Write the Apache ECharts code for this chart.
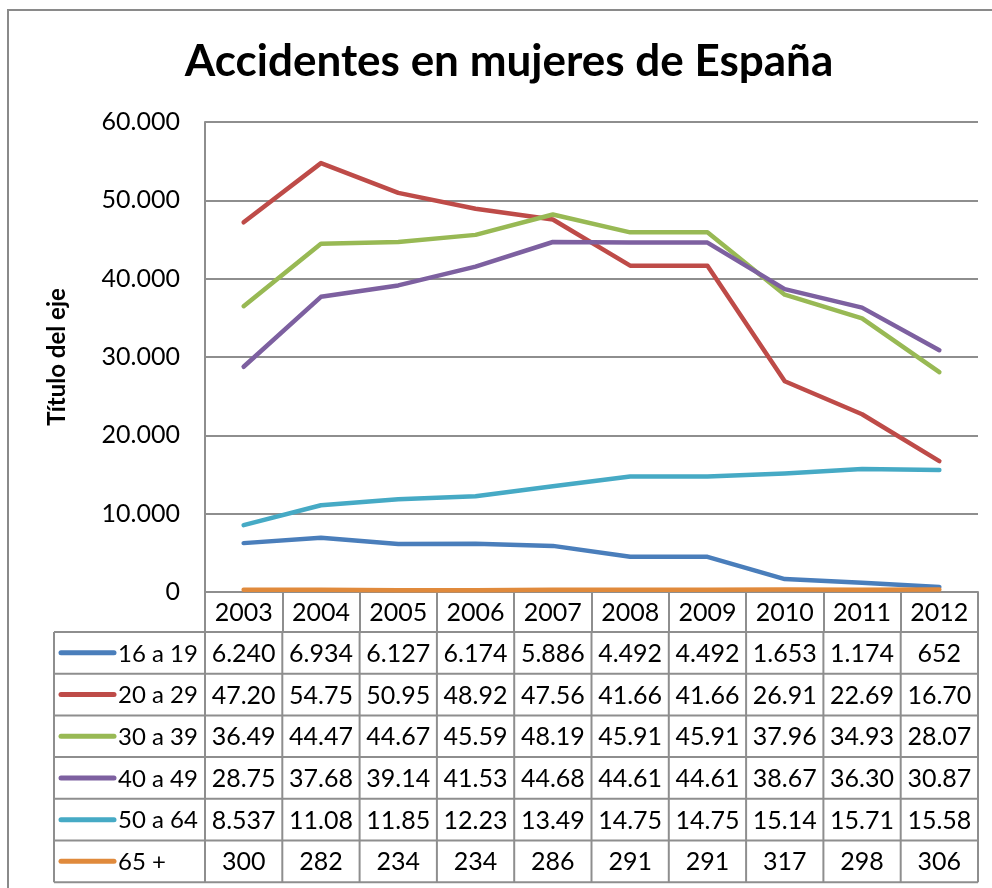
<!DOCTYPE html>
<html>
<head>
<meta charset="utf-8">
<script src="https://cdn.jsdelivr.net/npm/echarts@6/dist/echarts.min.js"></script>
<style>
  html, body { margin: 0; padding: 0; background: #fff; }
  #chart { width: 992px; height: 888px; }
</style>
</head>
<body>
<div id="chart"></div>
<script>
// años y series (mujeres accidentadas por grupo de edad)
const years = ['2003', '2004', '2005', '2006', '2007', '2008', '2009', '2010', '2011', '2012'];
const g16a19 = [6240, 6934, 6127, 6174, 5886, 4492, 4492, 1653, 1174, 652];
const g20a29 = [47200, 54750, 50950, 48920, 47560, 41660, 41660, 26910, 22690, 16700];
const g30a39 = [36490, 44470, 44670, 45590, 48190, 45910, 45910, 37960, 34930, 28070];
const g40a49 = [28750, 37680, 39140, 41530, 44680, 44610, 44610, 38670, 36300, 30870];
const g50a64 = [8537, 11080, 11850, 12230, 13490, 14750, 14750, 15140, 15710, 15580];
const g65mas = [300, 282, 234, 234, 286, 291, 291, 317, 298, 306];
const seriesNames = ['16 a 19', '20 a 29', '30 a 39', '40 a 49', '50 a 64', '65 +'];
const yTicks = [0, 10000, 20000, 30000, 40000, 50000, 60000];

const seriesData = [g16a19, g20a29, g30a39, g40a49, g50a64, g65mas];
const colors = ['#4a7ebb', '#be4b48', '#98b954', '#7d60a0', '#46aac5', '#e08a3c'];
const FONT = 'Lato';
const FS = 25;
const LINE = '#8e8e8e';

// 47200 -> "47.200" -> recortado como en la tabla de Excel
const fmt = v => String(v).replace(/\B(?=(\d{3})+(?!\d))/g, '.');
const cellText = v => fmt(v).slice(0, 5);

const chart = echarts.init(document.getElementById('chart'));

const option = {
  animation: false,
  backgroundColor: '#fff',
  title: {
    text: 'Accidentes en mujeres de España',
    left: 504,
    textAlign: 'center',
    top: 35,
    textStyle: { fontFamily: FONT, fontWeight: 'bold', fontSize: 44, color: '#000' }
  },
  grid: { left: 205, right: 14, top: 122, bottom: 296 },
  xAxis: {
    type: 'category',
    data: years,
    boundaryGap: true,
    axisLine: { lineStyle: { color: LINE, width: 2 } },
    axisTick: { show: true, interval: 0, length: 40, lineStyle: { color: LINE, width: 2 } },
    axisLabel: { interval: 0, margin: 8, fontFamily: FONT, fontSize: FS, color: '#000' }
  },
  yAxis: {
    type: 'value',
    min: yTicks[0],
    max: yTicks[yTicks.length - 1],
    interval: yTicks[1] - yTicks[0],
    name: 'Título del eje',
    nameLocation: 'middle',
    nameRotate: 90,
    nameGap: 136,
    nameTextStyle: { fontFamily: FONT, fontWeight: 'bold', fontSize: 24, color: '#000' },
    axisLine: { show: true, lineStyle: { color: LINE, width: 2 } },
    axisTick: { show: false },
    axisLabel: { margin: 25, fontFamily: FONT, fontSize: FS, color: '#000', formatter: v => fmt(v) },
    splitLine: { lineStyle: { color: LINE, width: 2 } }
  },
  series: seriesNames.map((name, i) => ({
    name: name,
    type: 'line',
    data: seriesData[i],
    symbol: 'none',
    lineStyle: { color: colors[i], width: 4.5, cap: 'round', join: 'round' },
    itemStyle: { color: colors[i] },
    z: 3 + i
  }))
};
chart.setOption(option);

// tabla de datos bajo el eje, con las columnas tomadas de la escala de categorías
function buildTable() {
  const x0 = chart.convertToPixel({ xAxisIndex: 0 }, years[0]);
  const x1 = chart.convertToPixel({ xAxisIndex: 0 }, years[1]);
  const colW = x1 - x0;
  const plotLeft = x0 - colW / 2;
  const plotRight = plotLeft + colW * years.length;
  const axisY = chart.convertToPixel({ yAxisIndex: 0 }, 0);
  const top = axisY + 40;
  const rowH = 41.7;
  const tableLeft = 54;
  const bottom = top + rowH * seriesNames.length;
  const els = [];

  // marco exterior del gráfico
  els.push({ type: 'rect', shape: { x: 8, y: 10, width: 1000, height: 900 },
    style: { fill: null, stroke: '#8a8a8a', lineWidth: 2 }, silent: true });

  for (let r = 0; r <= seriesNames.length; r++) {
    const y = top + r * rowH;
    els.push({ type: 'line', shape: { x1: tableLeft, y1: y, x2: plotRight, y2: y },
      style: { stroke: LINE, lineWidth: 2 } });
  }
  els.push({ type: 'line', shape: { x1: tableLeft, y1: top, x2: tableLeft, y2: bottom },
    style: { stroke: LINE, lineWidth: 2 } });
  for (let c = 0; c <= years.length; c++) {
    const x = plotLeft + c * colW;
    els.push({ type: 'line', shape: { x1: x, y1: top, x2: x, y2: bottom },
      style: { stroke: LINE, lineWidth: 2 } });
  }

  seriesNames.forEach((name, r) => {
    const cy = top + r * rowH + rowH / 2;
    els.push({ type: 'line', shape: { x1: 61, y1: cy, x2: 114, y2: cy },
      style: { stroke: colors[r], lineWidth: 5, lineCap: 'round' } });
    els.push({ type: 'text', x: 118, y: cy + 1,
      style: { text: name, fontFamily: FONT, fontSize: 24, fill: '#000',
        textAlign: 'left', textVerticalAlign: 'middle' } });
    seriesData[r].forEach((v, c) => {
      els.push({ type: 'text', x: plotLeft + c * colW + colW / 2, y: cy + 1,
        style: { text: cellText(v), fontFamily: FONT, fontSize: FS, fill: '#000',
          textAlign: 'center', textVerticalAlign: 'middle' } });
    });
  });

  chart.setOption({ graphic: { elements: els } });
}
buildTable();
</script>
</body>
</html>
